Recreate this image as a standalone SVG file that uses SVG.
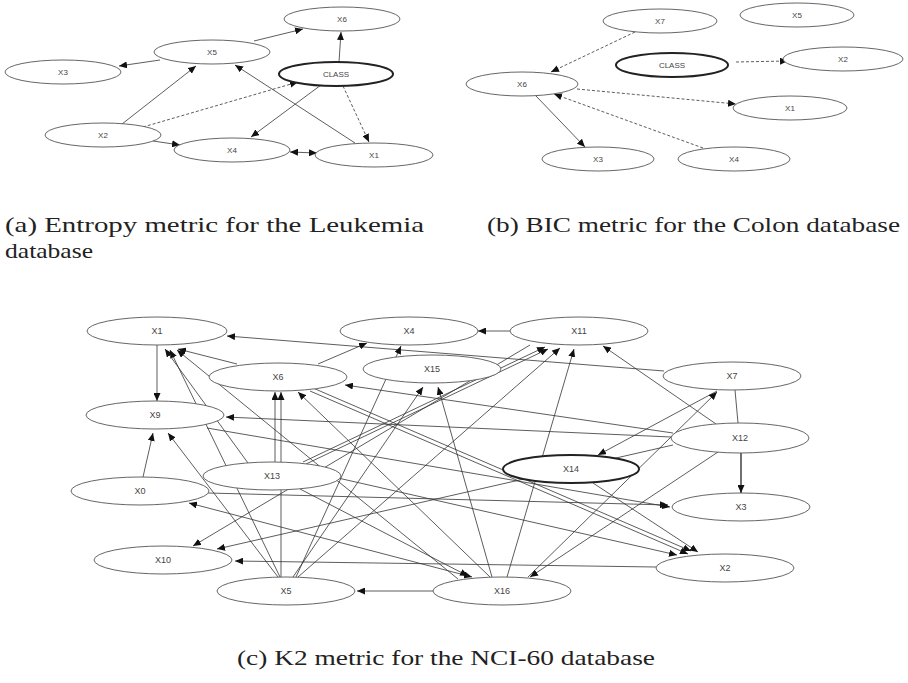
<svg xmlns="http://www.w3.org/2000/svg" width="908" height="683" viewBox="0 0 908 683">
<style>
.n{fill:#fff;stroke:#555;stroke-width:0.9}
.cls{fill:#fff;stroke:#222;stroke-width:2}
.t{font-family:"Liberation Sans",Arial,sans-serif;font-size:8px;fill:#444;text-anchor:middle;dominant-baseline:central}
.tc{font-family:"Liberation Sans",Arial,sans-serif;font-size:9px;fill:#444;text-anchor:middle;dominant-baseline:central}
.e{stroke:#333;stroke-width:0.8;fill:none;marker-end:url(#ah)}
.d{stroke-dasharray:3 2}
.bi{marker-start:url(#ah)}
.nl{marker-end:none}
.cap{font-family:"Liberation Serif","Times New Roman",serif;font-size:21px;fill:#222}
</style>
<defs>
<marker id="ah" markerUnits="userSpaceOnUse" markerWidth="9" markerHeight="7" refX="8" refY="3.5" orient="auto-start-reverse">
<path d="M0,0 L8,3.5 L0,7 z" fill="#111"/>
</marker>
</defs>

<g id="edges">
<!-- (a) -->
<line class="e" x1="254" y1="41" x2="303" y2="29"/>
<line class="e" x1="160" y1="60" x2="119" y2="66"/>
<line class="e" x1="339" y1="62" x2="341" y2="32"/>
<line class="e" x1="122" y1="124" x2="196" y2="66"/>
<line class="e d" x1="143" y1="127" x2="298" y2="82"/>
<line class="e" x1="153" y1="141" x2="180" y2="145"/>
<line class="e" x1="321" y1="85" x2="251" y2="137"/>
<line class="e d" x1="343" y1="86" x2="369" y2="142"/>
<line class="e" x1="355" y1="143" x2="235" y2="65"/>
<line class="e bi" x1="290" y1="152" x2="317" y2="153"/>
<!-- (b) -->
<line class="e d" x1="635" y1="32" x2="551" y2="72"/>
<line class="e d" x1="736" y1="62" x2="788" y2="61"/>
<line class="e d" x1="577" y1="89" x2="736" y2="104"/>
<line class="e" x1="536" y1="96" x2="585" y2="147"/>
<line class="e d" x1="703" y1="148" x2="554" y2="94"/>
<!-- (c) -->
<line class="e" x1="510" y1="331" x2="478" y2="331"/>
<line class="e" x1="157" y1="345" x2="157" y2="401"/>
<line class="e" x1="664" y1="371" x2="227" y2="336"/>
<line class="e" x1="318" y1="364" x2="367" y2="343"/>
<line class="e" x1="296" y1="577" x2="401" y2="346"/>
<line class="e" x1="673" y1="433" x2="345" y2="385"/>
<line class="e" x1="671" y1="437" x2="226" y2="417"/>
<line class="e" x1="716" y1="424" x2="603" y2="346"/>
<line class="e" x1="717" y1="391" x2="598" y2="455"/>
<line class="e" x1="528" y1="577" x2="717" y2="392"/>
<line class="e nl" x1="735" y1="390" x2="738" y2="423"/>
<line class="e" x1="741" y1="453" x2="741" y2="493" style="stroke-width:1.4"/>
<line class="e" x1="718" y1="452" x2="530" y2="577"/>
<line class="e" x1="310" y1="391" x2="688" y2="554"/>
<line class="e" x1="313" y1="388" x2="691" y2="551"/>
<line class="e" x1="275" y1="462" x2="275" y2="392"/>
<line class="e" x1="281" y1="577" x2="281" y2="392"/>
<line class="e" x1="490" y1="577" x2="298" y2="392"/>
<line class="e" x1="237" y1="364" x2="178" y2="349"/>
<line class="e" x1="280" y1="577" x2="170" y2="350"/>
<line class="e" x1="248" y1="463" x2="165" y2="349"/>
<line class="e" x1="458" y1="579" x2="177" y2="350"/>
<line class="e" x1="143" y1="477" x2="153" y2="433"/>
<line class="e" x1="278" y1="577" x2="168" y2="433"/>
<line class="e" x1="207" y1="428" x2="670" y2="507"/>
<line class="e" x1="208" y1="493" x2="668" y2="505"/>
<line class="e" x1="530" y1="345" x2="193" y2="546"/>
<line class="e" x1="673" y1="445" x2="217" y2="549"/>
<line class="e" x1="656" y1="567" x2="235" y2="561"/>
<line class="e" x1="433" y1="591" x2="357" y2="591"/>
<line class="e" x1="293" y1="577" x2="423" y2="387"/>
<line class="e" x1="492" y1="577" x2="438" y2="387"/>
<line class="e" x1="303" y1="462" x2="545" y2="347"/>
<line class="e" x1="306" y1="464" x2="548" y2="349"/>
<line class="e" x1="298" y1="577" x2="560" y2="348"/>
<line class="e" x1="507" y1="577" x2="574" y2="349"/>
<line class="e bi" x1="189" y1="503" x2="472" y2="577"/>
<line class="e" x1="300" y1="489" x2="468" y2="576"/>
<line class="e" x1="593" y1="483" x2="698" y2="552"/>
<line class="e" x1="338" y1="478" x2="677" y2="555"/>
</g>

<!-- (a) nodes -->
<g id="a_X6"><ellipse class="n" cx="342" cy="19" rx="58" ry="12"/><text class="t" x="342" y="19">X6</text></g>
<g id="a_X5"><ellipse class="n" cx="212" cy="52" rx="58" ry="12"/><text class="t" x="212" y="52">X5</text></g>
<g id="a_X3"><ellipse class="n" cx="63" cy="72" rx="58" ry="12"/><text class="t" x="63" y="72">X3</text></g>
<g id="a_CLASS"><ellipse class="cls" cx="336" cy="74" rx="57" ry="12"/><text class="t" x="336" y="74">CLASS</text></g>
<g id="a_X2"><ellipse class="n" cx="103" cy="135" rx="58" ry="12"/><text class="t" x="103" y="135">X2</text></g>
<g id="a_X4"><ellipse class="n" cx="232" cy="150" rx="58" ry="12"/><text class="t" x="232" y="150">X4</text></g>
<g id="a_X1"><ellipse class="n" cx="374" cy="155" rx="59" ry="12"/><text class="t" x="374" y="155">X1</text></g>

<!-- (b) nodes -->
<g id="b_X7"><ellipse class="n" cx="660" cy="21" rx="57" ry="12"/><text class="t" x="660" y="21">X7</text></g>
<g id="b_X5"><ellipse class="n" cx="797" cy="15" rx="57" ry="12"/><text class="t" x="797" y="15">X5</text></g>
<g id="b_CLASS"><ellipse class="cls" cx="672" cy="65" rx="56" ry="12"/><text class="t" x="672" y="65">CLASS</text></g>
<g id="b_X2"><ellipse class="n" cx="843" cy="59" rx="60" ry="12"/><text class="t" x="843" y="59">X2</text></g>
<g id="b_X6"><ellipse class="n" cx="522" cy="84" rx="56" ry="12"/><text class="t" x="522" y="84">X6</text></g>
<g id="b_X1"><ellipse class="n" cx="790" cy="108" rx="57" ry="12"/><text class="t" x="790" y="108">X1</text></g>
<g id="b_X3"><ellipse class="n" cx="598" cy="159" rx="56" ry="12"/><text class="t" x="598" y="159">X3</text></g>
<g id="b_X4"><ellipse class="n" cx="734" cy="159" rx="56" ry="12"/><text class="t" x="734" y="159">X4</text></g>

<!-- (c) nodes -->
<g id="c_X1"><ellipse class="n" cx="157" cy="331" rx="70" ry="14"/><text class="tc" x="157" y="331">X1</text></g>
<g id="c_X4"><ellipse class="n" cx="409" cy="331" rx="69" ry="14"/><text class="tc" x="409" y="331">X4</text></g>
<g id="c_X11"><ellipse class="n" cx="579" cy="331" rx="69" ry="14"/><text class="tc" x="579" y="331">X11</text></g>
<g id="c_X6"><ellipse class="n" cx="278" cy="377" rx="69" ry="14"/><text class="tc" x="278" y="377">X6</text></g>
<g id="c_X15"><ellipse class="n" cx="432" cy="369" rx="69" ry="14"/><text class="tc" x="432" y="369">X15</text></g>
<g id="c_X7"><ellipse class="n" cx="732" cy="376" rx="69" ry="14"/><text class="tc" x="732" y="376">X7</text></g>
<g id="c_X9"><ellipse class="n" cx="155" cy="415" rx="69" ry="14"/><text class="tc" x="155" y="415">X9</text></g>
<g id="c_X12"><ellipse class="n" cx="740" cy="438" rx="69" ry="15"/><text class="tc" x="740" y="438">X12</text></g>
<g id="c_X14"><ellipse class="cls" cx="571" cy="469" rx="68" ry="14"/><text class="tc" x="571" y="469">X14</text></g>
<g id="c_X13"><ellipse class="n" cx="272" cy="476" rx="69" ry="14"/><text class="tc" x="272" y="476">X13</text></g>
<g id="c_X0"><ellipse class="n" cx="140" cy="491" rx="69" ry="14"/><text class="tc" x="140" y="491">X0</text></g>
<g id="c_X3"><ellipse class="n" cx="741" cy="507" rx="69" ry="14"/><text class="tc" x="741" y="507">X3</text></g>
<g id="c_X10"><ellipse class="n" cx="163" cy="560" rx="69" ry="14"/><text class="tc" x="163" y="560">X10</text></g>
<g id="c_X2"><ellipse class="n" cx="725" cy="568" rx="69" ry="14"/><text class="tc" x="725" y="568">X2</text></g>
<g id="c_X5"><ellipse class="n" cx="286" cy="591" rx="69" ry="14"/><text class="tc" x="286" y="591">X5</text></g>
<g id="c_X16"><ellipse class="n" cx="502" cy="591" rx="69" ry="14"/><text class="tc" x="502" y="591">X16</text></g>

<!-- captions -->
<text class="cap" x="5" y="232" textLength="419" lengthAdjust="spacingAndGlyphs">(a) Entropy metric for the Leukemia</text>
<text class="cap" x="5" y="258" textLength="88" lengthAdjust="spacingAndGlyphs">database</text>
<text class="cap" x="487" y="232" textLength="413" lengthAdjust="spacingAndGlyphs">(b) BIC metric for the Colon database</text>
<text class="cap" x="237" y="665" textLength="418" lengthAdjust="spacingAndGlyphs">(c) K2 metric for the NCI-60 database</text>
</svg>
